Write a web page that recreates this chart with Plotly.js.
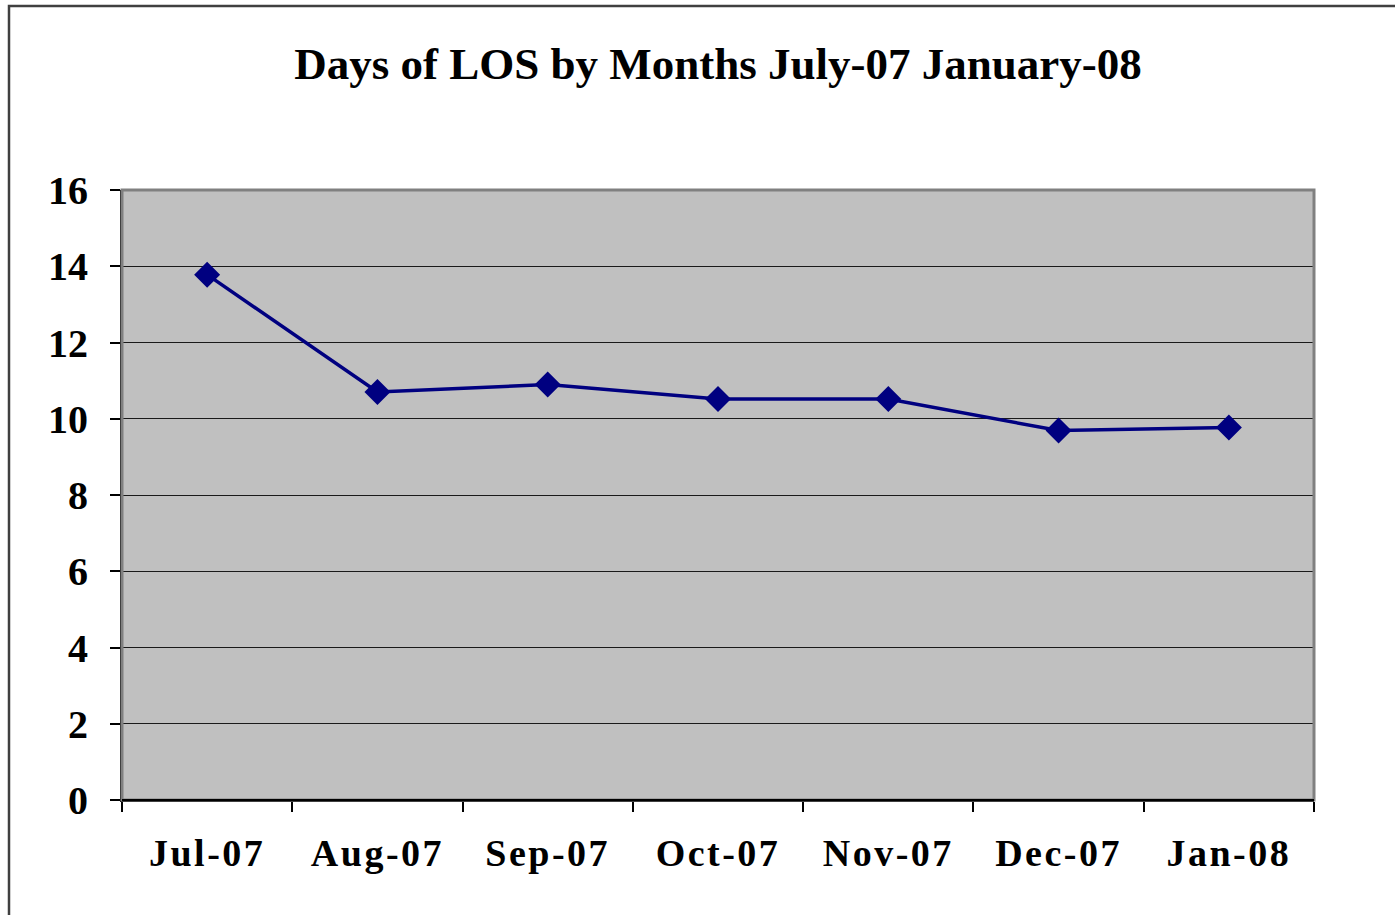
<!DOCTYPE html>
<html>
<head>
<meta charset="utf-8">
<script src="https://cdn.plot.ly/plotly-3.0.1.min.js"></script>
<style>
html, body { margin: 0; padding: 0; background: #fff; }
#chart { width: 1395px; height: 915px; }
.xtick text { letter-spacing: 2.5px; }
</style>
</head>
<body>
<div id="chart"></div>
<script>
const months = ["Jul-07", "Aug-07", "Sep-07", "Oct-07", "Nov-07", "Dec-07", "Jan-08"];
const losDays = [13.78, 10.7, 10.9, 10.52, 10.52, 9.69, 9.77];
const yTicks = [0, 2, 4, 6, 8, 10, 12, 14, 16];

const serif = "Liberation Serif, Times New Roman, serif";

const trace = {
  type: "scatter",
  mode: "lines+markers",
  x: months,
  y: losDays,
  line: { color: "#000080", width: 3.5 },
  marker: { symbol: "diamond", size: 20, color: "#000080" },
  hoverinfo: "x+y"
};

const layout = {
  width: 1395,
  height: 915,
  margin: { l: 122, r: 81, t: 190, b: 115 },
  paper_bgcolor: "#ffffff",
  plot_bgcolor: "#c0c0c0",
  showlegend: false,
  title: {
    text: "<b>Days of LOS by Months July-07 January-08</b>",
    font: { family: serif, size: 45, color: "#000000" },
    x: 0.5,
    xref: "paper",
    xanchor: "center",
    y: 1 - 63 / 915,
    yref: "container",
    yanchor: "middle"
  },
  xaxis: {
    type: "category",
    range: [-0.5, 6.5],
    tickson: "boundaries",
    ticks: "outside",
    ticklen: 10,
    tickwidth: 1.5,
    tickcolor: "#000000",
    showline: true,
    linecolor: "#000000",
    linewidth: 2,
    showgrid: false,
    tickfont: { family: serif, size: 38, color: "#000000", weight: "bold" },
    ticklabelstandoff: 18,
    fixedrange: true
  },
  yaxis: {
    range: [0, 16],
    tickvals: yTicks,
    ticktext: yTicks.map(String),
    ticks: "outside",
    ticklen: 10,
    tickwidth: 1.5,
    tickcolor: "#000000",
    showline: true,
    linecolor: "#000000",
    linewidth: 2,
    showgrid: true,
    gridcolor: "#1a1a1a",
    gridwidth: 1,
    zeroline: false,
    tickfont: { family: serif, size: 40, color: "#000000", weight: "bold" },
    ticklabelstandoff: 14,
    fixedrange: true
  },
  shapes: [
    {
      type: "rect", xref: "paper", yref: "paper",
      x0: 0, x1: 1, y0: 0, y1: 1,
      line: { color: "#808080", width: 3 },
      fillcolor: "rgba(0,0,0,0)",
      layer: "above"
    },
    {
      type: "line", xref: "paper", yref: "paper",
      x0: 0, x1: 1, y0: 0, y1: 0,
      line: { color: "#000000", width: 2 },
      layer: "above"
    },
    {
      type: "rect", xref: "paper", yref: "paper",
      x0: -(122 - 9) / 1192, x1: (1395 - 122 + 4) / 1192,
      y0: -1.5, y1: (800 - 6) / 610,
      line: { color: "#404040", width: 2.5 },
      fillcolor: "rgba(0,0,0,0)",
      layer: "above"
    }
  ]
};

Plotly.newPlot("chart", [trace], layout, { displayModeBar: false });
</script>
</body>
</html>
